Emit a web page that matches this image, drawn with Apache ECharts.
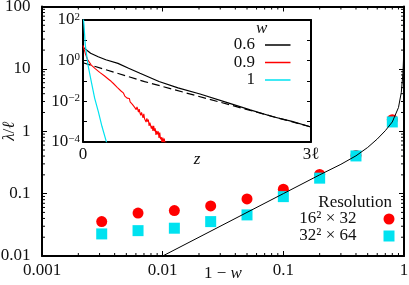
<!DOCTYPE html>
<html><head><meta charset="utf-8">
<script src="https://cdn.jsdelivr.net/npm/echarts@6/dist/echarts.min.js"></script>
<style>html,body{margin:0;padding:0;background:#fff}#c{width:409px;height:285px}</style>
</head><body><div id="c"></div>
<script>
const FONT = '"Liberation Serif", "Times New Roman", serif';

// ---------- main panel data ----------
const resX = [0.003125, 0.00625, 0.0125, 0.025, 0.05, 0.1, 0.2, 0.4, 0.8];
const res16Y = [0.0356, 0.0487, 0.0534, 0.0635, 0.0822, 0.118, 0.203, 0.41, 1.53];
const res32Y = [0.0226, 0.0255, 0.0279, 0.0356, 0.0456, 0.0895, 0.177, 0.402, 1.41];
const theoryX = [0.01, 0.02, 0.05, 0.1, 0.2, 0.3, 0.4, 0.5, 0.6, 0.7, 0.8, 0.9, 0.95, 0.98, 0.99, 0.995, 0.998, 0.999];
const theoryY = [0.01, 0.02, 0.05, 0.1, 0.2, 0.295, 0.404, 0.55, 0.75, 1.02, 1.41, 2.4, 4.2, 8.5, 14, 28, 60, 100];
const xTickLabels = ['0.001', '0.01', '0.1', '1'];
const yTickLabels = ['0.01', '0.1', '1', '10', '100'];
const xMinorTicks = [0.002,0.003,0.004,0.005,0.006,0.007,0.008,0.009,
                     0.02,0.03,0.04,0.05,0.06,0.07,0.08,0.09,
                     0.2,0.3,0.4,0.5,0.6,0.7,0.8,0.9];
const yMinorTicks = [0.02,0.03,0.04,0.05,0.06,0.07,0.08,0.09,
                     0.2,0.3,0.4,0.5,0.6,0.7,0.8,0.9,
                     2,3,4,5,6,7,8,9,
                     20,30,40,50,60,70,80,90];

// ---------- inset data ----------
const w06Z = [0, 0.02, 0.1, 0.2, 0.3, 0.46, 0.6, 0.75, 1.0, 1.25, 1.54, 1.93, 2.2, 2.5, 2.75, 3.0];
const w06Y = [4.6, 4.0, 2.3, 1.55, 1.1, 0.73, 0.42, 0.235, 0.093, 0.045, 0.0225, 0.0078, 0.0037, 0.0017, 0.001, 0.00053];
const w06FitZ = [0, 0.81, 1.93, 3.0];
const w06FitY = [0.78, 0.092, 0.0066, 0.00053];
const w09Z = [0, 0.013, 0.03, 0.06, 0.109, 0.16, 0.22, 0.28, 0.34, 0.37, 0.40, 0.425, 0.45, 0.475,
              0.50, 0.51, 0.52, 0.53, 0.54, 0.55, 0.56, 0.57, 0.58, 0.59, 0.60,
              0.61, 0.62, 0.63, 0.64, 0.65, 0.66, 0.67, 0.68, 0.69, 0.70,
              0.71, 0.72, 0.73, 0.74, 0.75, 0.76, 0.77, 0.78, 0.79, 0.80,
              0.81, 0.82, 0.83, 0.84, 0.85, 0.86, 0.87, 0.88, 0.89, 0.90,
              0.91, 0.92, 0.93, 0.94, 0.95, 0.96, 0.97, 0.98, 0.99, 1.00,
              1.01, 1.02, 1.03, 1.04, 1.05, 1.06, 1.07, 1.08, 1.09, 1.10];
const w09Y = [5.6, 4.8, 2.24, 1.12, 0.60, 0.40, 0.263, 0.178, 0.117, 0.095, 0.074, 0.062, 0.048, 0.039,
              0.0316, 0.0257, 0.0263, 0.0257, 0.0209, 0.0178, 0.0195, 0.0178, 0.0141, 0.0166, 0.0123,
              0.0135, 0.00912, 0.0102, 0.0105, 0.00692, 0.00676, 0.00794, 0.0049, 0.00575, 0.0038,
              0.00513, 0.00398, 0.00288, 0.00407, 0.00257, 0.002, 0.00282, 0.00229, 0.00151, 0.00234,
              0.00135, 0.00158, 0.000933, 0.00141, 0.000977, 0.00123, 0.000603, 0.000871, 0.000851, 0.000447,
              0.000603, 0.000339, 0.000603, 0.000331, 0.000457, 0.000214, 0.000339, 0.000229, 0.000324, 0.000155,
              0.000282, 0.000132, 0.00017, 0.0000851, 0.000158, 0.0000891, 0.000141, 0.0000631, 0.0000977, 0.0000468];
const w1Z = [0, 0.013, 0.03, 0.066, 0.109, 0.154, 0.2, 0.25, 0.307, 0.33];
const w1Y = [200, 56, 5.9, 0.60, 0.091, 0.0138, 0.0032, 0.00056, 0.0001, 0.00005];
const insetXTickLabels = ['0', '', '', '3ℓ'];
const insetYTickLabels = ['10{s|−4}', '', '10{s|−2}', '', '10{s|0}', '', '10{s|2}'];

const zip = (a, b) => a.map((v, i) => [v, b[i]]);
const TXT = '#111';
const axisText = {fontFamily: FONT, fontSize: 17, color: TXT, lineHeight: 17};
const blackLine = {color: '#000', width: 2};

const chart = echarts.init(document.getElementById('c'));
const option = {
  animation: false,
  backgroundColor: '#fff',
  textStyle: {fontFamily: FONT},
  grid: [
    {left: 42, right: 5, top: 6.5, bottom: 29, containLabel: false, outerBoundsMode: 'none'},
    {left: 83, right: 98, top: 20, bottom: 143.3, containLabel: false, outerBoundsMode: 'none'}
  ],
  title: {text: 'Resolution', right: 17, top: 194.5, padding: 0,
    textStyle: {fontFamily: FONT, fontSize: 17, fontWeight: 'normal', color: TXT, lineHeight: 17}},
  legend: [
    {data: ['16² × 32', '32² × 64'], orient: 'vertical', align: 'right', right: 14.5, top: 210.5,
     padding: 0, itemGap: 0, itemWidth: 11, itemHeight: 11, selectedMode: false,
     textStyle: {fontFamily: FONT, fontSize: 17, color: TXT, lineHeight: 17, padding: [0, 22, 0, 0]}},
    {data: ['0.6', '0.9', '1'], orient: 'vertical', align: 'right', right: 118.5, top: 36.5,
     padding: 0, itemGap: 0.5, itemWidth: 25.5, itemHeight: 1.5, icon: 'rect', selectedMode: false,
     textStyle: {fontFamily: FONT, fontSize: 17, color: TXT, lineHeight: 17, padding: [0, 5, 0, 0]}}
  ],
  graphic: [
    {type: 'text', left: 256, top: 20, z: 10, style: {text: 'w', font: 'italic 17px "Liberation Serif"', fill: TXT}}
  ],
  xAxis: [
    {type: 'log', gridIndex: 0, min: 0.001, max: 1, position: 'bottom',
     axisLine: {show: true, onZero: false, lineStyle: blackLine},
     axisTick: {show: true, inside: true, length: 5, lineStyle: {color: '#000', width: 1}},
     axisLabel: Object.assign({}, axisText, {margin: 6, formatter: v => xTickLabels[Math.round(Math.log10(v)) + 3]}),
     splitLine: {show: false},
     name: '1 − {i|w}', nameLocation: 'middle', nameGap: 9, nameMoveOverlap: false,
     nameTextStyle: {fontFamily: FONT, fontSize: 17, color: TXT, lineHeight: 17, rich: {i: {fontStyle: 'italic', fontFamily: FONT, fontSize: 17}}}},
    {type: 'log', gridIndex: 0, min: 0.001, max: 1, position: 'top',
     axisLine: {show: true, onZero: false, lineStyle: blackLine},
     axisTick: {show: true, inside: true, length: 5, lineStyle: {color: '#000', width: 1}},
     axisLabel: {show: false}, splitLine: {show: false}},
    {type: 'value', gridIndex: 1, min: 0, max: 3, interval: 1, position: 'bottom',
     axisLine: {show: true, onZero: false, lineStyle: blackLine},
     axisTick: {show: false},
     axisLabel: Object.assign({}, axisText, {margin: 4, formatter: v => insetXTickLabels[Math.round(v)]}),
     splitLine: {show: false},
     name: 'z', nameLocation: 'middle', nameGap: 9, nameMoveOverlap: false,
     nameTextStyle: {fontFamily: FONT, fontSize: 17, color: TXT, fontStyle: 'italic', lineHeight: 17}},
    {type: 'value', gridIndex: 1, min: 0, max: 3, interval: 1, position: 'top',
     axisLine: {show: true, onZero: false, lineStyle: blackLine},
     axisTick: {show: false}, axisLabel: {show: false}, splitLine: {show: false}}
  ],
  yAxis: [
    {type: 'log', gridIndex: 0, min: 0.01, max: 100, position: 'left',
     axisLine: {show: true, onZero: false, lineStyle: blackLine},
     axisTick: {show: true, inside: true, length: 5, lineStyle: {color: '#000', width: 1}},
     axisLabel: Object.assign({}, axisText, {margin: 11.5, formatter: v => yTickLabels[Math.round(Math.log10(v)) + 2]}),
     splitLine: {show: false},
     name: '{i|λ}/{i|ℓ}', nameLocation: 'middle', nameRotate: 90, nameGap: 23.5, nameMoveOverlap: false,
     nameTextStyle: {fontFamily: FONT, fontSize: 17, color: TXT, lineHeight: 17, rich: {i: {fontStyle: 'italic', fontFamily: FONT, fontSize: 17}}}},
    {type: 'log', gridIndex: 0, min: 0.01, max: 100, position: 'right',
     axisLine: {show: true, onZero: false, lineStyle: blackLine},
     axisTick: {show: true, inside: true, length: 5, lineStyle: {color: '#000', width: 1}},
     axisLabel: {show: false}, splitLine: {show: false}},
    {type: 'log', gridIndex: 1, min: 1e-4, max: 100, position: 'left',
     axisLine: {show: true, onZero: false, lineStyle: blackLine},
     axisTick: {show: true, inside: true, length: 4, lineStyle: {color: '#000', width: 1}},
     axisLabel: Object.assign({}, axisText, {margin: 3,
       formatter: v => insetYTickLabels[Math.round(Math.log10(v)) + 4] || '',
       rich: {s: {fontFamily: FONT, fontSize: 11, lineHeight: 11, verticalAlign: 'top', color: TXT}}}),
     splitLine: {show: false}},
    {type: 'log', gridIndex: 1, min: 1e-4, max: 100, position: 'right',
     axisLine: {show: true, onZero: false, lineStyle: blackLine},
     axisTick: {show: true, inside: true, length: 4, lineStyle: {color: '#000', width: 1}},
     axisLabel: {show: false}, splitLine: {show: false}}
  ],
  series: [
    {type: 'custom', name: 'xminor', xAxisIndex: 0, yAxisIndex: 0, silent: true, clip: false,
     data: xMinorTicks.map(v => [v, 0.01]),
     renderItem: (p, api) => {
       const b = api.coord([api.value(0), 0.01]);
       const t = api.coord([api.value(0), 100]);
       return {type: 'group', children: [
         {type: 'line', shape: {x1: b[0], y1: b[1], x2: b[0], y2: b[1] - 3}, style: {stroke: '#000', lineWidth: 1}},
         {type: 'line', shape: {x1: t[0], y1: t[1], x2: t[0], y2: t[1] + 3}, style: {stroke: '#000', lineWidth: 1}}
       ]};
     }},
    {type: 'custom', name: 'yminor', xAxisIndex: 0, yAxisIndex: 0, silent: true, clip: false,
     data: yMinorTicks.map(v => [0.001, v]),
     renderItem: (p, api) => {
       const l = api.coord([0.001, api.value(1)]);
       const r = api.coord([1, api.value(1)]);
       return {type: 'group', children: [
         {type: 'line', shape: {x1: l[0], y1: l[1], x2: l[0] + 3, y2: l[1]}, style: {stroke: '#000', lineWidth: 1}},
         {type: 'line', shape: {x1: r[0], y1: r[1], x2: r[0] - 3, y2: r[1]}, style: {stroke: '#000', lineWidth: 1}}
       ]};
     }},
    {type: 'line', name: 'theory', xAxisIndex: 0, yAxisIndex: 0, data: zip(theoryX, theoryY),
     symbol: 'none', smooth: false, clip: true,
     lineStyle: {color: '#000', width: 1}, itemStyle: {color: '#000'}},
    {type: 'scatter', name: '16² × 32', xAxisIndex: 0, yAxisIndex: 0, data: zip(resX, res16Y),
     symbol: 'circle', symbolSize: 11, itemStyle: {color: '#ff0000', opacity: 1}},
    {type: 'scatter', name: '32² × 64', xAxisIndex: 0, yAxisIndex: 0, data: zip(resX, res32Y),
     symbol: 'rect', symbolSize: 11, itemStyle: {color: '#00e2f0', opacity: 1}},
    {type: 'line', name: '0.6 fit', xAxisIndex: 2, yAxisIndex: 2, data: zip(w06FitZ, w06FitY),
     symbol: 'none', clip: true, lineStyle: {color: '#000', width: 1.2, type: [8, 4]}, itemStyle: {color: '#000'}},
    {type: 'line', name: '0.6', xAxisIndex: 2, yAxisIndex: 2, data: zip(w06Z, w06Y),
     symbol: 'none', clip: true, lineStyle: {color: '#000', width: 1.2}, itemStyle: {color: '#000'}},
    {type: 'line', name: '0.9', xAxisIndex: 2, yAxisIndex: 2, data: zip(w09Z, w09Y),
     symbol: 'none', clip: true, sampling: null, lineStyle: {color: '#ff0000', width: 1.1}, itemStyle: {color: '#ff0000'}},
    {type: 'line', name: '1', xAxisIndex: 2, yAxisIndex: 2, data: zip(w1Z, w1Y),
     symbol: 'none', clip: true, lineStyle: {color: '#00e2f0', width: 1.2}, itemStyle: {color: '#00e2f0'}}
  ]
};
chart.setOption(option);
</script>
</body></html>
